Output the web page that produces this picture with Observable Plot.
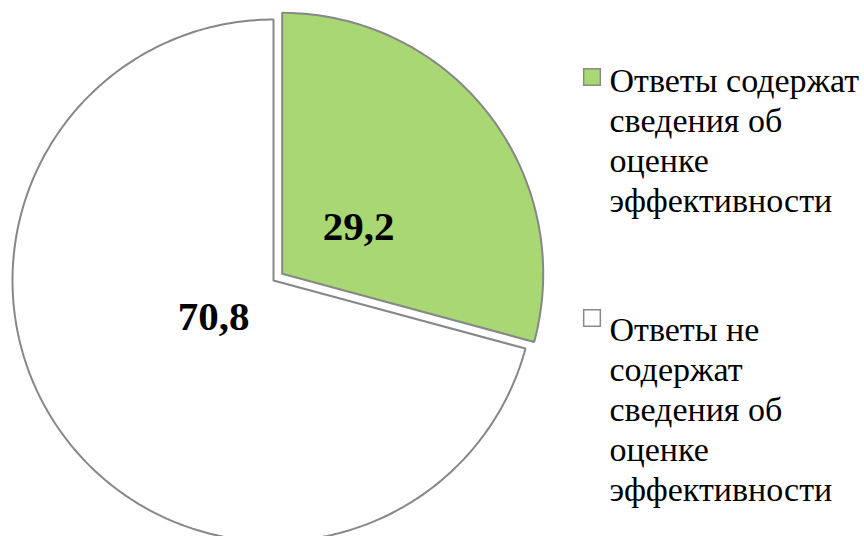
<!DOCTYPE html>
<html><head><meta charset="utf-8">
<script src="https://cdn.jsdelivr.net/npm/d3@7"></script>
<script src="https://cdn.jsdelivr.net/npm/@observablehq/plot@0.6"></script>
</head>
<body style="margin:0;background:#fff">
<div id="wrap"></div>
<script>
const categories = ["Ответы содержат сведения об оценке эффективности", "Ответы не содержат сведения об оценке эффективности"];
const values = [29.2, 70.8];
const valueLabels = ["29,2", "70,8"];
const colors = ["#a8d774", "#ffffff"];
const legendLines = [
  ["Ответы содержат", "сведения об", "оценке", "эффективности"],
  ["Ответы не", "содержат", "сведения об", "оценке", "эффективности"]
];
const explode = [0.042, 0];

// build slice outlines (angles clockwise from top)
const total = d3.sum(values);
let acc = 0;
const slices = values.map((v, i) => {
  const a0 = acc / total * 2 * Math.PI;
  acc += v;
  const a1 = acc / total * 2 * Math.PI;
  const mid = (a0 + a1) / 2;
  const ox = explode[i] * Math.sin(mid), oy = explode[i] * Math.cos(mid);
  const pts = [{x: ox, y: oy}];
  const n = Math.max(8, Math.ceil((a1 - a0) / (Math.PI / 180)));
  for (let k = 0; k <= n; k++) {
    const a = a0 + (a1 - a0) * k / n;
    pts.push({x: ox + Math.sin(a), y: oy + Math.cos(a)});
  }
  pts.push({x: ox, y: oy});
  return {i, mid, ox, oy, pts};
});

const labelR = [0.35, 0.27];
const labelShift = [[4, 9], [-4, -6]];
const FONT = "Liberation Serif";
const LEG_BASE = 28, LEG_SIZE = 34;

const marks = [];
[1, 0].forEach(i => {
  marks.push(Plot.line(slices[i].pts, {
    x: "x", y: "y", fill: colors[i], stroke: "#878787", strokeWidth: 2,
    strokeLinejoin: "miter"
  }));
});
slices.forEach(s => {
  marks.push(Plot.text([s], {
    x: d => d.ox + labelR[d.i] * Math.sin(d.mid),
    y: d => d.oy + labelR[d.i] * Math.cos(d.mid),
    text: d => valueLabels[d.i],
    dx: labelShift[s.i][0], dy: labelShift[s.i][1],
    fontSize: 41, fontWeight: "bold", fontFamily: FONT,
    fill: "#000", textAnchor: "middle", lineAnchor: "middle"
  }));
});

// legend (inside the svg, placed with frame anchors)
const legTextTop = [63, 312];
const legSwatch = [76.5, 317.5];
categories.forEach((c, i) => {
  marks.push(Plot.dot([c], {
    frameAnchor: "top-left", dx: 591.5, dy: legSwatch[i],
    symbol: "square", r: 9.4, fill: colors[i], stroke: "#8a8a8a", strokeWidth: 1.5,
    title: d => d
  }));
  marks.push(Plot.text([legendLines[i].join("\n")], {
    frameAnchor: "top-left", dx: 609, dy: legTextTop[i],
    text: d => d, textAnchor: "start", lineAnchor: "top", lineHeight: 40 / LEG_SIZE,
    fontSize: LEG_BASE, fontFamily: FONT, fill: "#000"
  }));
});

const chart = Plot.plot({
  width: 864, height: 536,
  marginTop: 0, marginRight: 0, marginBottom: 0, marginLeft: 0,
  x: {domain: [-1, 1], range: [12, 534], axis: null},
  y: {domain: [-1, 1], range: [541, 19], axis: null},
  style: {background: "#fff", fontFamily: FONT},
  marks
});
// enlarge legend text around its anchor
chart.querySelectorAll('g[aria-label="text"]').forEach(g => {
  if (g.textContent.includes("Ответы")) {
    const t = g.getAttribute("transform") || "";
    g.setAttribute("transform", (t + ` scale(${LEG_SIZE / LEG_BASE})`).trim());
  }
});
document.getElementById("wrap").appendChild(chart);
</script>
</body></html>
